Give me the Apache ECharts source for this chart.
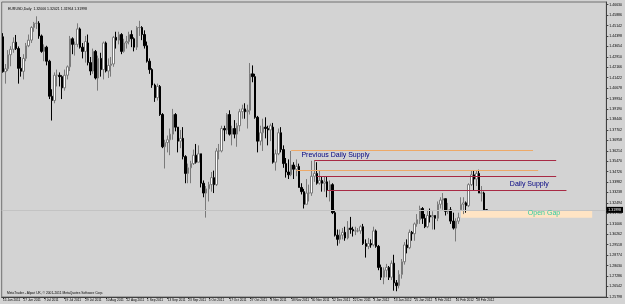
<!doctype html>
<html>
<head>
<meta charset="utf-8">
<title>EURUSD,Daily</title>
<script src="https://cdn.jsdelivr.net/npm/echarts@6/dist/echarts.min.js"></script>
<style>
    html, body { margin: 0; padding: 0; background: #d3d3d3; }
    #chart { width: 625px; height: 304px; }
</style>
</head>
<body>
<div id="chart"></div>
<script>
// daily bars, each [open, close, low, high]
var jun11 = [
    [1.4434,1.4185,1.4178,1.4460],[1.4185,1.4206,1.4100,1.4240],[1.4206,1.4306,1.4190,1.4339],
    [1.4306,1.4345,1.4224,1.4367],[1.4345,1.4395,1.4320,1.4430],[1.4395,1.4350,1.4340,1.4447],
    [1.4350,1.4209,1.4100,1.4365],[1.4209,1.4188,1.4150,1.4290],[1.4188,1.4280,1.4130,1.4310],
    [1.4280,1.4370,1.4260,1.4390],[1.4370,1.4410,1.4360,1.4450],[1.4410,1.4500,1.4390,1.4510]
];
var jul11 = [
    [1.4500,1.4530,1.4470,1.4540],[1.4530,1.4530,1.4490,1.4580],[1.4530,1.4440,1.4420,1.4545],
    [1.4440,1.4330,1.4320,1.4450],[1.4330,1.4360,1.4260,1.4380],[1.4360,1.4260,1.4230,1.4370],
    [1.4260,1.4010,1.3990,1.4270],[1.4010,1.3980,1.3837,1.4060],[1.3980,1.4160,1.3960,1.4180],
    [1.4160,1.4160,1.4080,1.4200],[1.4160,1.4150,1.4080,1.4180],[1.4150,1.4070,1.3990,1.4160],
    [1.4070,1.4160,1.4050,1.4200],[1.4160,1.4220,1.4130,1.4230],[1.4220,1.4420,1.4190,1.4440],
    [1.4420,1.4380,1.4310,1.4430],[1.4380,1.4380,1.4300,1.4400],[1.4380,1.4490,1.4360,1.4530],
    [1.4490,1.4360,1.4350,1.4500],[1.4360,1.4330,1.4280,1.4390],[1.4330,1.4400,1.4250,1.4440]
];
var aug11 = [
    [1.4390,1.4250,1.4230,1.4450],[1.4250,1.4190,1.4160,1.4290],[1.4190,1.4330,1.4170,1.4350],
    [1.4330,1.4140,1.4130,1.4340],[1.4140,1.4280,1.4050,1.4300],[1.4280,1.4200,1.4150,1.4320],
    [1.4200,1.4390,1.4130,1.4400],[1.4390,1.4190,1.4180,1.4400],[1.4190,1.4230,1.4140,1.4280],
    [1.4230,1.4240,1.4150,1.4290],[1.4240,1.4430,1.4220,1.4440],[1.4430,1.4410,1.4350,1.4470],
    [1.4410,1.4450,1.4380,1.4470],[1.4450,1.4330,1.4310,1.4460],[1.4330,1.4390,1.4320,1.4420],
    [1.4390,1.4400,1.4350,1.4440],[1.4400,1.4450,1.4380,1.4470],[1.4450,1.4420,1.4360,1.4480],
    [1.4420,1.4360,1.4330,1.4430],[1.4360,1.4500,1.4340,1.4510],[1.4500,1.4500,1.4440,1.4548],
    [1.4500,1.4450,1.4410,1.4510],[1.4450,1.4370,1.4350,1.4480]
];
var sep11 = [
    [1.4370,1.4260,1.4250,1.4400],[1.4260,1.4200,1.4170,1.4280],[1.4200,1.4090,1.4070,1.4210],
    [1.4090,1.4000,1.3970,1.4100],[1.4000,1.4080,1.3980,1.4100],[1.4080,1.3880,1.3870,1.4090],
    [1.3880,1.3650,1.3640,1.3890],[1.3650,1.3680,1.3495,1.3700],[1.3680,1.3700,1.3610,1.3730],
    [1.3700,1.3740,1.3590,1.3780],[1.3740,1.3880,1.3700,1.3920],[1.3880,1.3790,1.3760,1.3890],
    [1.3790,1.3690,1.3610,1.3790],[1.3690,1.3710,1.3640,1.3770],[1.3710,1.3580,1.3560,1.3790],
    [1.3580,1.3460,1.3390,1.3590],[1.3460,1.3500,1.3390,1.3530],[1.3500,1.3530,1.3390,1.3550],
    [1.3530,1.3590,1.3520,1.3630],[1.3590,1.3540,1.3530,1.3670],[1.3540,1.3600,1.3540,1.3660],
    [1.3600,1.3390,1.3360,1.3600]
];
var oct11 = [
    [1.3390,1.3320,1.3290,1.3410],[1.3320,1.3350,1.3145,1.3370],[1.3350,1.3380,1.3260,1.3400],
    [1.3380,1.3430,1.3330,1.3470],[1.3430,1.3380,1.3320,1.3480],[1.3380,1.3620,1.3370,1.3640],
    [1.3620,1.3620,1.3560,1.3670],[1.3620,1.3780,1.3610,1.3800],[1.3780,1.3770,1.3690,1.3800],
    [1.3770,1.3880,1.3740,1.3890],[1.3880,1.3740,1.3730,1.3910],[1.3740,1.3780,1.3660,1.3800],
    [1.3780,1.3740,1.3710,1.3840],[1.3740,1.3800,1.3650,1.3820],[1.3800,1.3900,1.3760,1.3920],
    [1.3900,1.3920,1.3850,1.3950],[1.3920,1.3900,1.3850,1.3960],[1.3900,1.3910,1.3780,1.3950],
    [1.3910,1.4170,1.3880,1.4247],[1.4170,1.4150,1.4110,1.4230],[1.4150,1.3860,1.3850,1.4170]
];
var nov11 = [
    [1.3860,1.3690,1.3610,1.3870],[1.3690,1.3750,1.3660,1.3800],[1.3750,1.3790,1.3620,1.3850],
    [1.3790,1.3780,1.3710,1.3860],[1.3780,1.3770,1.3660,1.3800],[1.3770,1.3800,1.3690,1.3815],
    [1.3790,1.3540,1.3530,1.3820],[1.3540,1.3600,1.3480,1.3630],[1.3600,1.3750,1.3590,1.3780],
    [1.3750,1.3630,1.3610,1.3790],[1.3630,1.3530,1.3500,1.3660],[1.3530,1.3470,1.3430,1.3570],
    [1.3470,1.3450,1.3420,1.3560],[1.3450,1.3520,1.3440,1.3620],[1.3520,1.3490,1.3420,1.3540],
    [1.3490,1.3510,1.3440,1.3560],[1.3510,1.3360,1.3360,1.3530],[1.3360,1.3330,1.3310,1.3390],
    [1.3330,1.3240,1.3210,1.3350],[1.3240,1.3320,1.3240,1.3420],[1.3320,1.3320,1.3260,1.3380],
    [1.3320,1.3440,1.3300,1.3550]
];
var dec11 = [
    [1.3440,1.3460,1.3400,1.3552],[1.3460,1.3390,1.3380,1.3540],[1.3390,1.3410,1.3380,1.3480],
    [1.3410,1.3390,1.3330,1.3440],[1.3390,1.3400,1.3330,1.3440],[1.3400,1.3340,1.3290,1.3440],
    [1.3340,1.3380,1.3260,1.3410],[1.3380,1.3180,1.3170,1.3390],[1.3180,1.3020,1.3010,1.3200],
    [1.3020,1.2990,1.2945,1.3060],[1.2990,1.3020,1.2960,1.3060],[1.3020,1.3040,1.2990,1.3070],
    [1.3040,1.3000,1.2980,1.3080],[1.3000,1.3070,1.2990,1.3120],[1.3070,1.3060,1.3030,1.3150],
    [1.3060,1.3050,1.3010,1.3080],[1.3050,1.3050,1.3020,1.3080],[1.3050,1.3050,1.3040,1.3070],
    [1.3050,1.3080,1.3030,1.3090],[1.3080,1.2960,1.2950,1.3100],[1.2960,1.2940,1.2860,1.2990],
    [1.2940,1.2960,1.2920,1.3000]
];
var jan12 = [
    [1.2960,1.2950,1.2930,1.2990],[1.2950,1.3050,1.2940,1.3080],[1.3050,1.2940,1.2930,1.3060],
    [1.2940,1.2790,1.2770,1.2950],[1.2790,1.2720,1.2700,1.2810],[1.2720,1.2770,1.2670,1.2790],
    [1.2770,1.2790,1.2720,1.2815],[1.2790,1.2720,1.2700,1.2800],[1.2720,1.2820,1.2700,1.2840],
    [1.2820,1.2680,1.2624,1.2880],[1.2680,1.2660,1.2620,1.2700],[1.2660,1.2740,1.2640,1.2770],
    [1.2740,1.2830,1.2710,1.2850],[1.2830,1.2950,1.2810,1.2970],[1.2950,1.2930,1.2890,1.2990],
    [1.2930,1.3040,1.2920,1.3060],[1.3040,1.3030,1.2980,1.3050],[1.3030,1.3100,1.2980,1.3110],
    [1.3100,1.3130,1.3080,1.3170],[1.3130,1.3210,1.3100,1.3230],[1.3210,1.3140,1.3100,1.3220],
    [1.3140,1.3080,1.3070,1.3170]
];
var feb12 = [
    [1.3080,1.3160,1.3070,1.3200],[1.3160,1.3150,1.3110,1.3210],[1.3150,1.3160,1.3060,1.3190],
    [1.3160,1.3140,1.3060,1.3160],[1.3140,1.3240,1.3120,1.3260],[1.3240,1.3270,1.3210,1.3290],
    [1.3270,1.3280,1.3200,1.3320],[1.3280,1.3190,1.3160,1.3280],[1.3190,1.3200,1.3170,1.3250],
    [1.3200,1.3120,1.3100,1.3220],[1.3120,1.3070,1.3060,1.3180],[1.3070,1.3120,1.2975,1.3140],
    [1.3120,1.3144,1.3100,1.3180],[1.3200,1.3240,1.3195,1.3290],[1.3240,1.3250,1.3170,1.3290],
    [1.3250,1.3230,1.3180,1.3260],[1.3230,1.3380,1.3220,1.3390],[1.3380,1.3450,1.3370,1.3480],
    [1.3450,1.3420,1.3340,1.3480],[1.3420,1.3460,1.3370,1.3480],[1.3460,1.3320,1.3320,1.3486]
];
var mar12 = [
    [1.3320,1.3320,1.3260,1.3370],[1.3320,1.3200,1.3195,1.3330],[1.32006,1.31998,1.31964,1.32021]
];

// time scale labels, one every 8 bars
var dateTicks = ['15 Jun 2011','27 Jun 2011','7 Jul 2011','19 Jul 2011','29 Jul 2011','10 Aug 2011',
    '22 Aug 2011','1 Sep 2011','13 Sep 2011','23 Sep 2011','5 Oct 2011','17 Oct 2011','27 Oct 2011',
    '8 Nov 2011','18 Nov 2011','30 Nov 2011','12 Dec 2011','22 Dec 2011','3 Jan 2012','13 Jan 2012',
    '25 Jan 2012','6 Feb 2012','16 Feb 2012','28 Feb 2012'];
// price scale labels
var priceTicks = [1.46630,1.45886,1.45142,1.44398,1.43654,1.42910,1.42166,1.41422,1.40678,1.39934,
    1.39190,1.38446,1.37702,1.36958,1.36214,1.35470,1.34726,1.33982,1.33238,1.32494,1.31750,
    1.31006,1.30262,1.29518,1.28774,1.28030,1.27286,1.26542,1.25798];

var lastPrice = 1.31998;
// drawn objects: [start bar, end bar, price]
var supplyOrange = [[112, 206, 1.36220], [114, 208, 1.34844]];
var supplyRed = [[121, 215, 1.35507], [122, 215, 1.34416], [126, 219, 1.33397]];
var openGap = [178, 229, 1.31992, 1.31443];
// text objects: [bar, price, text, colour]
var notes = [[116, 1.35913, 'Previous Daily Supply', '#000080'], [197, 1.33846, 'Daily Supply', '#000080'], [204, 1.31778, 'Open Gap', '#33cca0']];

var candles = jun11.concat(jul11, aug11, sep11, oct11, nov11, dec11, jan12, feb12, mar12);
var slots = 235;
var cats = [];
for (var i = 0; i < slots; i++) cats.push(String(i));

var lines = [];
supplyOrange.forEach(function (s) {
    lines.push([{coord: [s[0], s[2]], lineStyle: {color: '#eda968', width: 1, type: 'solid'}}, {coord: [s[1], s[2]]}]);
});
supplyRed.forEach(function (s) {
    lines.push([{coord: [s[0], s[2]], lineStyle: {color: '#a82a44', width: 1, type: 'solid'}}, {coord: [s[1], s[2]]}]);
});
lines.push({yAxis: lastPrice, lineStyle: {color: '#c3c3c3', width: 1, type: 'solid'},
    label: {show: true, position: 'end', distance: 0, formatter: lastPrice.toFixed(5),
        backgroundColor: '#000', color: '#fff', fontSize: 3.5, padding: [1, 2]}});

var myChart = echarts.init(document.getElementById('chart'));
var option = {
    animation: false,
    backgroundColor: '#d3d3d3',
    textStyle: {fontFamily: 'Liberation Sans, Arial, sans-serif'},
    title: [
        {text: 'EURUSD,Daily  1.32006 1.32021 1.31964 1.31998', left: 3, top: 2,
            textStyle: {fontSize: 3.5, fontWeight: 'normal', color: '#000'}},
        {text: 'MetaTrader - Alpari UK, \u00a9 2001-2011 MetaQuotes Software Corp.', left: 2, top: 287,
            textStyle: {fontSize: 3.3, fontWeight: 'normal', color: '#000'}}
    ],
    grid: {left: 0, right: 13, top: 2, bottom: 7, show: true, borderColor: '#707070', borderWidth: 1, backgroundColor: '#d3d3d3'},
    xAxis: {
        type: 'category',
        data: cats,
        axisLine: {lineStyle: {color: '#404040'}},
        axisTick: {show: true, alignWithLabel: true, length: 2, lineStyle: {color: '#404040'},
            interval: function (i) { return i % 8 === 0 && i / 8 < dateTicks.length; }},
        axisLabel: {align: 'left', margin: 2, fontSize: 3.2, color: '#000',
            interval: function (i) { return i % 8 === 0 && i / 8 < dateTicks.length; },
            formatter: function (v, i) { return dateTicks[i / 8] || ''; }},
        splitLine: {show: false}
    },
    yAxis: {
        type: 'value',
        position: 'right',
        min: 1.2579,
        max: 1.4682,
        axisLine: {show: true, lineStyle: {color: '#404040'}},
        axisTick: {show: true, length: 2, customValues: priceTicks, lineStyle: {color: '#404040'}},
        axisLabel: {customValues: priceTicks, fontSize: 3.5, margin: 3, color: '#000', align: 'left',
            formatter: function (v) { return v.toFixed(5); }},
        splitLine: {show: false}
    },
    series: [{
        type: 'candlestick',
        data: candles,
        barWidth: 2,
        itemStyle: {color: '#ffffff', color0: '#000000', borderColor: '#7a7a7a', borderColor0: '#000000', borderWidth: 1},
        markLine: {silent: true, symbol: 'none', label: {show: false}, data: lines},
        markArea: {silent: true, itemStyle: {color: '#ffe4c4', opacity: 1},
            data: [[{coord: [openGap[0], openGap[2]]}, {coord: [openGap[1], openGap[3]]}]]},
        markPoint: {silent: true, symbol: 'rect', symbolSize: 0,
            data: notes.map(function (n) {
                return {coord: [n[0], n[1]], name: n[2],
                    label: {show: true, position: 'right', distance: 0, formatter: '{b}', color: n[3], fontSize: 7}};
            })}
    }]
};
myChart.setOption(option);
</script>
</body>
</html>
